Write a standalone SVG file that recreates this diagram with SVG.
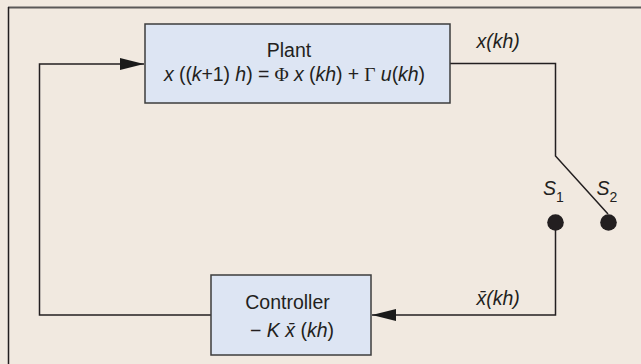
<svg xmlns="http://www.w3.org/2000/svg" width="641" height="364" viewBox="0 0 641 364">
<defs>
<style>
.t{font-family:"Liberation Sans",Arial,sans-serif;font-size:19.5px;fill:#231f20}
.i{font-style:italic}
.g{font-family:"Liberation Serif","Times New Roman",serif;font-style:normal}
.box{fill:#dde5f3;stroke:#3c3c3c;stroke-width:1.5}
.ln{fill:none;stroke:#231f20;stroke-width:1.5}
</style>
<marker id="arr" viewBox="0 0 24 12" refX="24" refY="6" markerWidth="24" markerHeight="12" markerUnits="userSpaceOnUse" orient="auto">
<path d="M0,0 L24,6 L0,12 Z" fill="#1a1a1a"/>
</marker>
</defs>
<rect x="0" y="0" width="641" height="364" fill="#f1e9e0"/>
<line x1="8" y1="7.5" x2="641" y2="7.5" stroke="#5a5858" stroke-width="2"/>
<line x1="8.5" y1="7" x2="8.5" y2="364" stroke="#231f20" stroke-width="1.5"/>
<g id="connectors">
<polyline class="ln" points="211,315 39.5,315 39.5,64 144,64" marker-end="url(#arr)"/>
<polyline class="ln" points="450,63.5 555.5,63.5 555.5,156 608,214"/>
<polyline class="ln" points="555.5,222 555.5,315 372,315" marker-end="url(#arr)"/>
<circle cx="555.5" cy="222.5" r="8.3" fill="#231f20"/>
<circle cx="608.5" cy="222.5" r="8.3" fill="#231f20"/>
</g>
<g id="plant">
<rect class="box" x="145" y="24" width="305" height="79"/>
<text class="t" x="289" y="57" text-anchor="middle">Plant</text>
<text class="t" x="164" y="81" textLength="261" lengthAdjust="spacing"><tspan class="i">x</tspan> ((<tspan class="i">k</tspan>+1) <tspan class="i">h</tspan>) = <tspan class="g">Φ</tspan> <tspan class="i">x</tspan> (<tspan class="i">kh</tspan>) + <tspan class="g">Γ</tspan> <tspan class="i">u</tspan>(<tspan class="i">kh</tspan>)</text>
</g>
<g id="controller">
<rect class="box" x="211" y="275" width="160" height="80"/>
<text class="t" x="287.5" y="309" text-anchor="middle">Controller</text>
<text class="t" x="292" y="337" text-anchor="middle">− <tspan class="i">K</tspan> <tspan class="i">x̄</tspan> (<tspan class="i">kh</tspan>)</text>
</g>
<g id="labels">
<text class="t i" x="476.5" y="48">x(kh)</text>
<text class="t i" x="476.5" y="305">x̄(kh)</text>
<text class="t i" x="543" y="195">S<tspan font-size="14" dy="7" font-style="normal">1</tspan></text>
<text class="t i" x="596.5" y="195">S<tspan font-size="14" dy="7" font-style="normal">2</tspan></text>
</g>
</svg>
